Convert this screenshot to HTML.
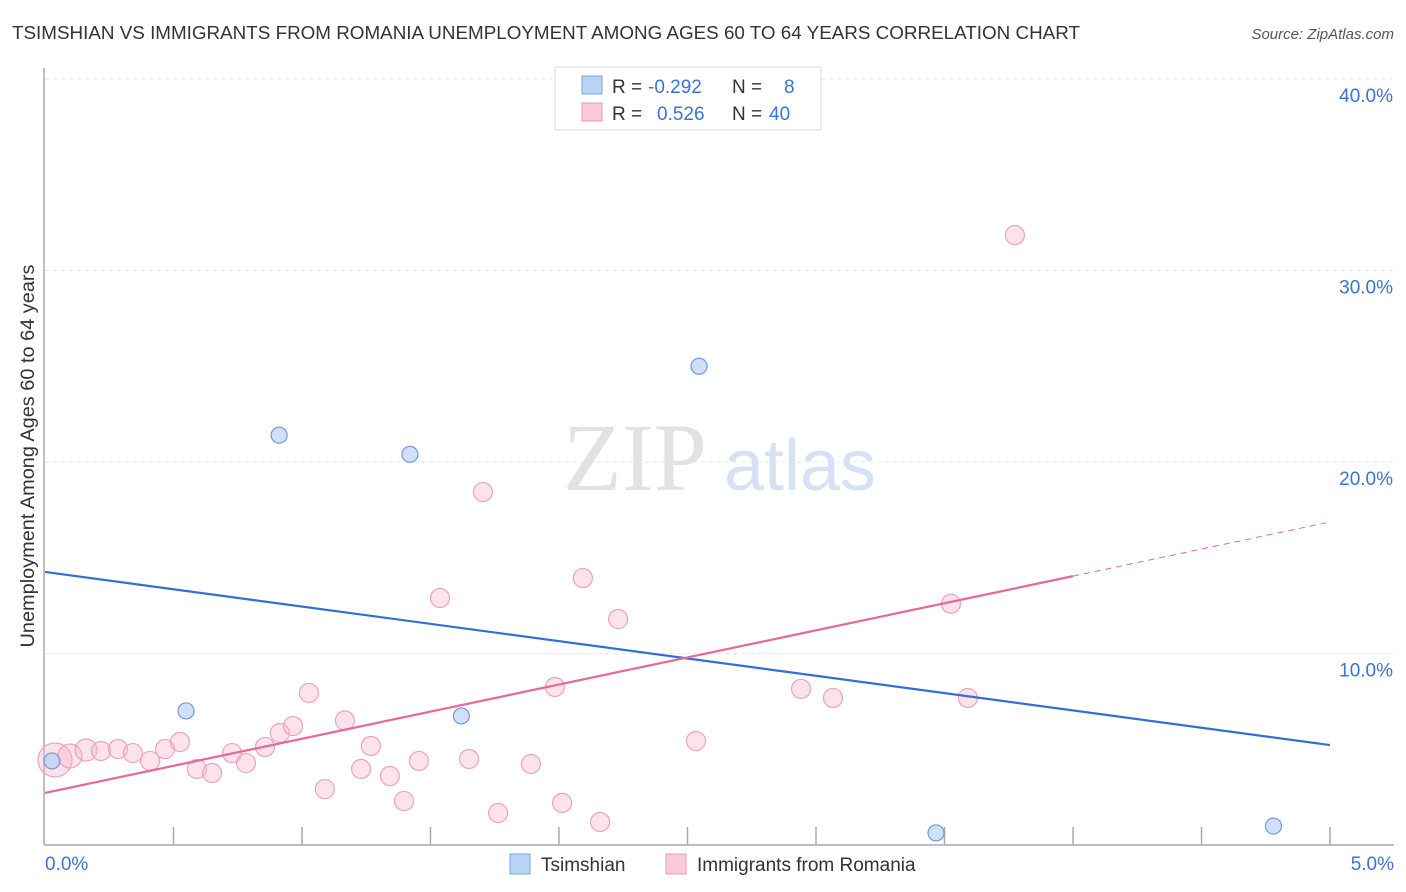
<!DOCTYPE html>
<html><head><meta charset="utf-8"><style>
body{margin:0;background:#fff;font-family:"Liberation Sans",sans-serif;}
svg{display:block}
</style></head><body>
<svg id="chart" width="1406" height="892" xmlns="http://www.w3.org/2000/svg">
<text x="12" y="39" font-size="18" fill="#333" textLength="1068" lengthAdjust="spacingAndGlyphs">TSIMSHIAN VS IMMIGRANTS FROM ROMANIA UNEMPLOYMENT AMONG AGES 60 TO 64 YEARS CORRELATION CHART</text>
<text x="1394" y="39" font-size="15" fill="#555" font-style="italic" text-anchor="end">Source: ZipAtlas.com</text>
<g id="grid"></g>
<g>
<text x="635" y="490" font-size="96" font-family="Liberation Serif,serif" fill="#e2e2e2" text-anchor="middle">ZIP</text>
<text x="800" y="490" font-size="72" fill="#d6e2f3" text-anchor="middle">atlas</text>
</g>
<g id="axes"></g>
<g id="pink"></g>
<g id="blue"></g>
<g id="lines"></g>
<text x="34" y="456" font-size="19" fill="#333" text-anchor="middle" textLength="383" lengthAdjust="spacingAndGlyphs" transform="rotate(-90 34 456)">Unemployment Among Ages 60 to 64 years</text>
<g>
<rect x="555" y="67" width="266" height="63" fill="#fff" stroke="#ddd"/>
<rect x="582" y="76" width="20" height="18" fill="#b9d3f5" stroke="#7aa6e0"/>
<rect x="582" y="103" width="20" height="18" fill="#fbcad9" stroke="#eb99b5"/>
<text x="612" y="93" font-size="19" fill="#333">R =</text>
<text x="648" y="93" font-size="19" fill="#3b73d1">-0.292</text>
<text x="732" y="93" font-size="19" fill="#333">N =</text>
<text x="784" y="93" font-size="19" fill="#3b73d1">8</text>
<text x="612" y="120" font-size="19" fill="#333">R =</text>
<text x="657" y="120" font-size="19" fill="#3b73d1">0.526</text>
<text x="732" y="120" font-size="19" fill="#333">N =</text>
<text x="769" y="120" font-size="19" fill="#3b73d1">40</text>
</g>
<g>
<rect x="510" y="854" width="20" height="20" fill="#b9d3f5" stroke="#7aa6e0"/>
<text x="541" y="871" font-size="19" fill="#333">Tsimshian</text>
<rect x="666" y="854" width="20" height="20" fill="#fbcad9" stroke="#eb99b5"/>
<text x="697" y="871" font-size="19" fill="#333">Immigrants from Romania</text>
</g>
</svg>
<script>
const yTicks=[10,20,30,40];
const yTickLabels=["10.0%","20.0%","30.0%","40.0%"];
const xTickLabels=["0.0%","5.0%"];
const blueX=[0.027,0.549,0.911,1.42,1.62,2.545,3.467,4.78];
const blueY=[4.39,7.0,21.4,20.4,6.74,25.0,0.63,0.99];
const pinkX=[0.039,0.097,0.16,0.218,0.284,0.342,0.409,0.467,0.525,0.591,0.65,0.728,0.782,0.856,0.914,0.965,1.027,1.089,1.167,1.23,1.268,1.342,1.397,1.455,1.537,1.65,1.704,1.763,1.891,1.984,2.012,2.093,2.16,2.23,2.533,2.942,3.066,3.525,3.591,3.774];
const pinkY=[4.44,4.65,4.96,4.91,5.01,4.8,4.39,5.01,5.38,3.97,3.76,4.8,4.28,5.12,5.85,6.21,7.94,2.92,6.5,3.97,5.17,3.6,2.3,4.39,12.9,4.49,18.43,1.67,4.23,8.25,2.2,13.94,1.2,11.8,5.43,8.15,7.68,12.6,7.68,31.85];
const pinkSize=[17,12,11,9.5,9.5,9.5,9.5,9.5,9.5,9.5,9.5,9.5,9.5,9.5,9.5,9.5,9.5,9.5,9.5,9.5,9.5,9.5,9.5,9.5,9.5,9.5,9.5,9.5,9.5,9.5,9.5,9.5,9.5,9.5,9.5,9.5,9.5,9.5,9.5,9.5];
const blueTrend=[14.26,5.22];
const pinkTrend=[2.72,16.87];
const pinkSolidEnd=4.0;
const NS="http://www.w3.org/2000/svg";
const X0=45,X1=1330,Y0=845,YPX=19.15;
const sx=v=>X0+(X1-X0)*v/5, sy=v=>Y0-v*YPX;
function mk(tag,attrs,parent){const e=document.createElementNS(NS,tag);for(const k in attrs)e.setAttribute(k,attrs[k]);parent.appendChild(e);return e;}
const grid=document.getElementById('grid'),axes=document.getElementById('axes');
yTicks.forEach((t,i)=>{
 const l=mk('line',{x1:X0,x2:1394,y1:sy(t),y2:sy(t),stroke:'#e6e6e6','stroke-dasharray':'4,4'},grid);
 
 
 const tx=mk('text',{x:1393,y:sy(t)+23,'font-size':19,fill:'#3b73d1','text-anchor':'end'},axes);
 tx.textContent=yTickLabels[i];
 
 
});
mk('line',{x1:X0-1,x2:X0-1,y1:68,y2:Y0,stroke:'#aaa','stroke-width':1.5},axes);
mk('line',{x1:X0-1,x2:1394,y1:Y0,y2:Y0,stroke:'#aaa','stroke-width':1.5},axes);
for(let i=1;i<=10;i++){const x=sx(i*0.5);const t=mk('line',{x1:x,x2:x,y1:827,y2:Y0,stroke:'#aaa','stroke-width':1.5},axes);
 
 }
[[xTickLabels[0],45,'start'],[xTickLabels[1],1394,'end']].forEach(a=>{const t=mk('text',{x:a[1],y:870,'font-size':19,fill:'#3b73d1','text-anchor':a[2]},axes);t.textContent=a[0];
 
 });
const pg=document.getElementById('pink');
pinkX.forEach((v,i)=>{const c=mk('circle',{cx:sx(v),cy:sy(pinkY[i]),r:pinkSize[i],fill:'rgba(248,182,204,0.4)',stroke:'#eca3bd','stroke-width':1.2},pg);
 
 });
const bg=document.getElementById('blue');
blueX.forEach((v,i)=>{const c=mk('circle',{cx:sx(v),cy:sy(blueY[i]),r:8,fill:'rgba(175,203,243,0.6)',stroke:'#6f9bd8','stroke-width':1.2},bg);
 
 });
const lg=document.getElementById('lines');
const bl=mk('line',{x1:sx(0),y1:sy(blueTrend[0]),x2:sx(5),y2:sy(blueTrend[1]),stroke:'#2f6fd6','stroke-width':2.2},lg);


const pe=pinkTrend[0]+(pinkTrend[1]-pinkTrend[0])*pinkSolidEnd/5;
const pl=mk('line',{x1:sx(0),y1:sy(pinkTrend[0]),x2:sx(pinkSolidEnd),y2:sy(pe),stroke:'#e8679a','stroke-width':2.2},lg);


const pd=mk('line',{x1:sx(pinkSolidEnd),y1:sy(pe),x2:sx(5),y2:sy(pinkTrend[1]),stroke:'#e8679a','stroke-width':1,'stroke-dasharray':'6,5'},lg);


</script>
</body></html>
